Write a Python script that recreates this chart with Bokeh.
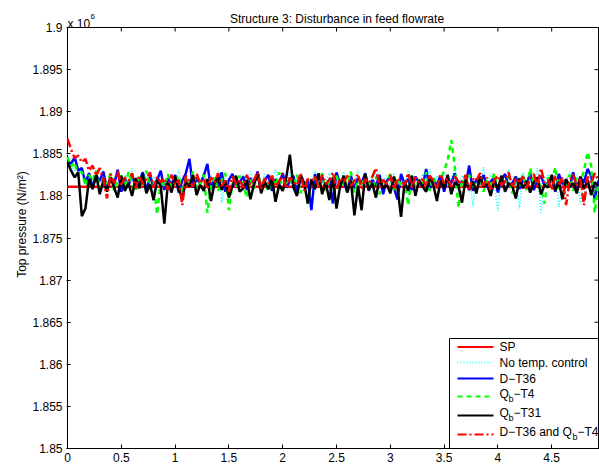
from bokeh.plotting import figure
from bokeh.models import Range1d, FixedTicker, Label
from bokeh.embed import file_html
from bokeh.resources import INLINE

# ---------------- data ----------------
# top pressure, given as deviation from 1.88e6 N/m^2 in units of 100 N/m^2
t = [round(i / 30, 4) for i in range(149)]  # time samples

sp_x = [0.0, 4.94]
sp_dev = [11, 11]

no_ctrl = [50, 36, 30, 24, 32, 18, 27, 12, 26, 16,
           30, 9, 22, 19, 28, 11, 24, 15, 33, 8,
           21, 17, 29, 6, 23, 14, 27, 10, 20, 25,
           13, 31, 7, 22, 16, 28, 11, 19, 26, 9,
           24, 15, 30, -8, 21, 13, 27, 18, 10, 25,
           16, 29, 8, 22, 14, 26, 12, 20, 31, 9,
           23, 17, 28, 11, 19, 25, 6, 21, 15, 30,
           10, 24, 18, 27, 7, 20, 14, 29, 12, 22,
           16, 31, 9, 25, 13, 21, 28, 8, 19, 24,
           11, 27, 15, 22, 5, 30, 17, 20, 12, 26,
           14, 32, 9, 23, 18, 28, 10, 21, 33, 7,
           25, 15, 30, -12, 22, 19, 34, 8, 27, 13,
           -18, 24, 16, 31, 10, 21, -15, 28, 14, 23,
           9, 33, -20, 19, 26, 12, 30, -13, 22, 17,
           29, 8, 25, -10, 20, 31, 14, 24, 18]

d_t36 = [42, 38, 46, 30, 33, 15, 27, 10, 24, 18,
         29, 8, 22, 14, 31, 5, 20, 12, 26, 9,
         17, 28, 6, 23, 11, 19, 30, 7, 21, 13,
         25, 4, 18, 27, 44, 10, 20, 15, 24, 38,
         8, 22, 12, 28, 5, 19, 26, 11, 16, 23,
         7, 21, 14, 29, 9, 18, 25, 6, 20, 13,
         27, 10, 17, 24, 3, 22, 12, 19, -17, 26,
         11, 23, 8, 20, -9, 28, 14, 17, 5, 24,
         9, 21, 15, 27, 6, 19, 12, 25, 2, 18,
         22, 10, -4, 26, 14, 20, 7, 23, 16, 11,
         32, 8, 19, 13, 24, 5, 21, 15, 27, 9,
         18, 12, 36, 6, 20, 14, 25, 10, 17, 22,
         4, 19, 26, 11, 15, 23, 8, 20, 13, 27,
         7, 18, 24, 12, 16, 21, 5, 26, 14, 19,
         10, 28, 9, 22, 16, 32, 24, -5, 18]

qb_t4 = [46, 35, 40, 22, 29, 12, 25, 18, 30, 8,
         21, 14, 27, 6, 19, 24, 10, 28, 15, 5,
         23, 13, 30, 9, 17, -22, 20, 11, 26, 7,
         18, 24, 4, 21, 14, 29, 8, 16, 25, -20,
         12, 22, 6, 19, 27, -17, 15, 10, 24, 13,
         -2, 20, 9, 26, 14, 18, 5, 23, 11, 28,
         7, 17, 21, 12, 25, 3, 19, -9, 16, 22,
         10, 27, 6, 18, 14, 24, 8, 20, 13, 29,
         4, 19, 11, 25, 16, 9, 23, 2, 18, 14,
         26, 7, 21, 12, 17, -11, 24, 10, 19, 15,
         28, 6, 22, 13, 18, 30, 42, 66, 35, -14,
         20, 11, 25, 8, 17, 23, 5, 19, 13, 27,
         9, 21, 15, 24, 3, 18, 12, 26, 7, 33,
         14, 20, 10, -9, 22, 16, 34, 8, 19, 12,
         25, 6, 21, 15, 30, 52, 36, -20, 16]

qb_t31 = [40, 30, 22, 28, -24, -15, 20, 8, 25, 2,
          18, 5, 22, 10, -2, 24, 6, 15, 0, 21,
          9, 26, 3, 14, -5, 19, 12, -33, 16, 4,
          23, 8, -3, 17, 11, 25, 1, 13, 6, 20,
          -6, 15, 22, 7, 18, -2, 12, 24, 5, 9,
          19, -4, 14, 26, 3, 17, 8, 21, -7, 13,
          6, 22, 49, 10, 0, 25, 15, -9, 20, 8,
          27, 2, 16, -5, 22, -15, 11, 24, 4, 18,
          -23, 12, -17, 26, 7, 15, -2, 21, 9, 14,
          3, 23, 10, -25, 17, 6, 24, 0, 19, 11,
          5, 22, 13, -6, 18, 9, 25, 2, 16, 12,
          -8, 20, 7, 17, 3, 23, 11, 14, 0, 19,
          8, 24, 5, 15, 12, -3, 21, 9, 18, 4,
          16, 22, 2, 13, 10, 25, 6, 17, -4, 20,
          11, 15, 3, 23, 8, 19, 1, 16, 12]

d_t36_qb_t4 = [68, 55, 45, 48, 40, 44, 30, 36, 24, 33,
               20, -3, 26, 15, 29, 12, 22, 18, 27, 9,
               24, 14, 20, 28, 10, 23, 16, 21, 7, 25,
               13, 19, -11, 24, 17, 11, 26, 15, 21, 8,
               22, 16, 27, 12, 18, 5, 23, 14, 20, 10,
               25, 13, 19, 28, 8, 21, 15, 24, 11, 17,
               26, 9, 22, 16, 13, 27, 6, 20, 18, 23,
               10, 25, 14, 19, 28, 7, 21, 16, 24, 12,
               18, 26, 9, 20, 15, 23, 33, 11, 19, 14,
               25, 8, 21, 17, 13, 27, 10, 22, 16, 20,
               12, 24, 18, 9, 26, 15, 21, 11, 23, 17,
               14, 25, 8, 20, 18, 27, 12, 22, 6, 19,
               24, 13, 17, 28, 10, 21, 15, 23, 9, 20,
               26, 11, 33, 16, 19, 7, 24, 14, 22, -11,
               18, 25, 12, 20, -11, 23, 15, 27, 19]

x_ticks = [0, 0.5, 1, 1.5, 2, 2.5, 3, 3.5, 4, 4.5]
x_tick_labels = ["0", "0.5", "1", "1.5", "2", "2.5", "3", "3.5", "4", "4.5"]
y_ticks = [1.85, 1.855, 1.86, 1.865, 1.87, 1.875, 1.88, 1.885, 1.89, 1.895, 1.9]
y_tick_labels = ["1.85", "1.855", "1.86", "1.865", "1.87", "1.875", "1.88", "1.885", "1.89", "1.895", "1.9"]

title_text = "Structure 3: Disturbance in feed flowrate"
y_label = "Top pressure (N/m\u00b2)"


def to_axis(dev):
    # deviation (x100 N/m^2 above 1.88e6) -> axis units of 10^6 N/m^2
    return [round(1.88 + v / 1e4, 6) for v in dev]


# ---------------- figure ----------------
FONT = "Liberation Sans"
FW, FH = 531, 421          # size of the axes box in px
TOP_PAD = 27               # room above the box for title / exponent (inside the frame)
X0, X1 = 0.0, 4.935
Y0, Y1 = 1.85, 1.9
xpp = (X1 - X0) / FW
ypp = (Y1 - Y0) / FH

p = figure(frame_width=FW + 2, frame_height=FH + TOP_PAD,
           x_range=Range1d(X0 - xpp, X1 + xpp), y_range=Range1d(Y0, Y1 + TOP_PAD * ypp),
           output_backend="svg", toolbar_location=None,
           min_border_left=66, min_border_right=0, min_border_top=0, min_border_bottom=20,
           background_fill_color="white", border_fill_color="white")
p.outline_line_color = None
p.xgrid.visible = False
p.ygrid.visible = False

p.xaxis.ticker = FixedTicker(ticks=x_ticks)
p.yaxis.ticker = FixedTicker(ticks=y_ticks)
p.xaxis.major_label_overrides = {v: s for v, s in zip(x_ticks, x_tick_labels)}
p.yaxis.major_label_overrides = {v: s for v, s in zip(y_ticks, y_tick_labels)}
p.yaxis.axis_label = y_label
for ax in (p.xaxis[0], p.yaxis[0]):
    ax.axis_line_color = "black"
    ax.major_tick_line_color = "black"
    ax.major_tick_in = 4
    ax.major_tick_out = 0
    ax.minor_tick_line_color = None
    ax.major_label_text_font = FONT
    ax.major_label_text_font_size = "12px"
    ax.major_label_text_color = "black"
    ax.major_label_standoff = 4
    ax.axis_label_text_font = FONT
    ax.axis_label_text_font_size = "12px"
    ax.axis_label_text_font_style = "normal"
    ax.axis_label_text_color = "black"
    ax.axis_label_standoff = 0
p.yaxis[0].axis_line_color = None

# axes box and inward ticks on the top and right edges
p.quad(left=[X0], right=[X1], bottom=[Y0], top=[Y1], fill_color=None,
       line_color="black", line_width=1)
p.segment(x0=x_ticks, y0=[Y1] * len(x_ticks), x1=x_ticks, y1=[Y1 - 4 * ypp] * len(x_ticks),
          line_color="black", line_width=1)
p.segment(x0=[X1] * len(y_ticks), y0=y_ticks, x1=[X1 - 4 * xpp] * len(y_ticks), y1=y_ticks,
          line_color="black", line_width=1)

# ---------------- series ----------------
p.line(sp_x, to_axis(sp_dev), line_color="#FF0000", line_width=2.5)
p.line(t, to_axis(no_ctrl), line_color="#00FFFF", line_width=1.5, line_dash="1 2")
p.line(t, to_axis(d_t36), line_color="#0000FF", line_width=2.5)
p.line(t, to_axis(qb_t4), line_color="#00FF00", line_width=2.5, line_dash="5 4")
p.line(t, to_axis(qb_t31), line_color="#000000", line_width=2.5)
p.line(t, to_axis(d_t36_qb_t4), line_color="#FF0000", line_width=2.5, line_dash="9 3 2 3")

# ---------------- title and exponent ----------------
p.add_layout(Label(x=(X0 + X1) / 2, x_offset=4, y=Y1, y_offset=9, text=title_text,
                   text_align="center", text_baseline="alphabetic", text_font=FONT,
                   text_font_size="12px", text_color="black"))
p.add_layout(Label(x=X0, y=Y1, y_offset=4, text="x 10", text_align="left",
                   text_baseline="alphabetic", text_font=FONT, text_font_size="12px",
                   text_color="black"))
p.add_layout(Label(x=X0, x_offset=23, y=Y1, y_offset=11, text="6", text_align="left",
                   text_baseline="alphabetic", text_font=FONT, text_font_size="8px",
                   text_color="black"))

# ---------------- legend (drawn manually for subscripts) ----------------
box_left = X1 - 149 * xpp
box_top = Y0 + 110 * ypp
p.quad(left=[box_left], right=[X1], bottom=[Y0], top=[box_top],
       fill_color="white", line_color="black", line_width=1)

rows = [101.5, 86, 70, 52, 33, 14]  # px above box bottom
styles = [dict(line_color="#FF0000", line_width=2),
          dict(line_color="#00FFFF", line_width=1.5, line_dash="1 2"),
          dict(line_color="#0000FF", line_width=2),
          dict(line_color="#00FF00", line_width=2, line_dash="5 4"),
          dict(line_color="#000000", line_width=2),
          dict(line_color="#FF0000", line_width=2, line_dash="9 3 2 3")]
lx0 = X1 - 141 * xpp
lx1 = X1 - 105 * xpp
for r, st in zip(rows, styles):
    yy = Y0 + r * ypp
    p.line([lx0, lx1], [yy, yy], **st)

legend_parts = [
    [("SP", 0, 0, "12px")],
    [("No temp. control", 0, 0, "12px")],
    [("D\u2212T36", 0, 0, "12px")],
    [("Q", 0, 3, "12px"), ("b", 9, -2, "9px"), ("\u2212T4", 14, 3, "12px")],
    [("Q", 0, 3, "12px"), ("b", 9, -2, "9px"), ("\u2212T31", 14, 3, "12px")],
    [("D\u2212T36 and Q", 0, 3, "12px"), ("b", 73, -2, "9px"), ("\u2212T4", 78, 3, "12px")],
]
for r, parts in zip(rows, legend_parts):
    for txt, dx, dy, fs in parts:
        p.add_layout(Label(x=X1, x_offset=-99 + dx, y=Y0, y_offset=r + dy, text=txt,
                           text_align="left", text_baseline="middle", text_font=FONT,
                           text_font_size=fs, text_color="black"))

open("out.html", "w").write(file_html(p, INLINE))
